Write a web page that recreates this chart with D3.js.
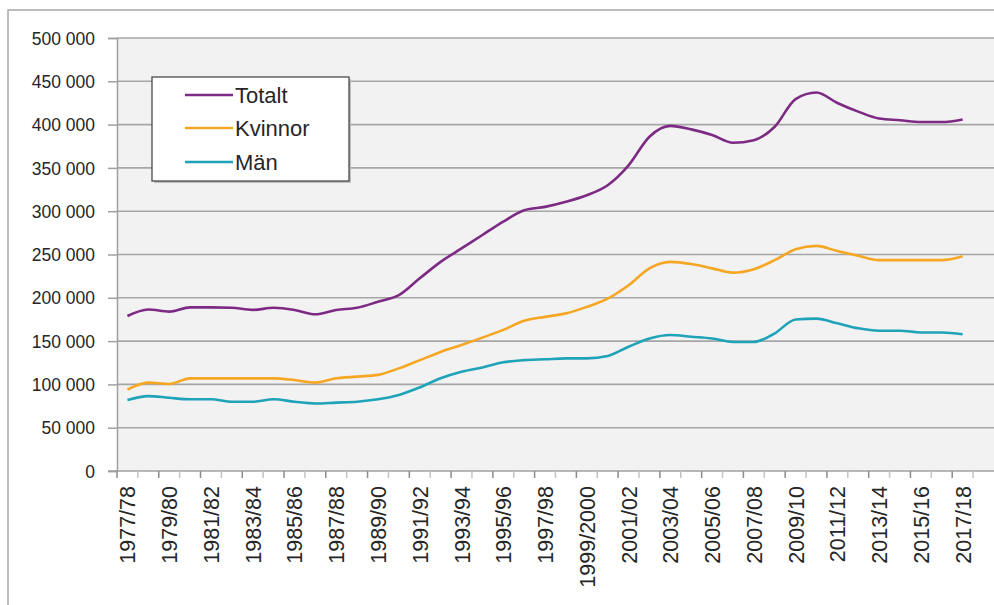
<!DOCTYPE html>
<html>
<head>
<meta charset="utf-8">
<script src="https://cdn.jsdelivr.net/npm/d3@7"></script>
<style>
  html, body { margin: 0; padding: 0; background: #ffffff; }
  svg { display: block; }
  text { font-family: "Liberation Sans", Arial, sans-serif; fill: #262626; }
</style>
</head>
<body>
<svg id="chart" width="994" height="605"></svg>
<script>
const categories = ["1977/78","1978/79","1979/80","1980/81","1981/82","1982/83","1983/84","1984/85","1985/86","1986/87","1987/88","1988/89","1989/90","1990/91","1991/92","1992/93","1993/94","1994/95","1995/96","1996/97","1997/98","1998/99","1999/2000","2000/01","2001/02","2002/03","2003/04","2004/05","2005/06","2006/07","2007/08","2008/09","2009/10","2010/11","2011/12","2012/13","2013/14","2014/15","2015/16","2016/17","2017/18"];

const totalt = [179000,186500,184000,189000,189000,188500,186000,188500,186000,181000,186000,188500,195500,203000,222500,241500,257000,272500,288000,301000,305000,311000,318500,330000,353000,386000,398500,394500,388000,379000,382000,397500,429500,437000,425000,415000,407000,405000,403000,403000,406000];
const kvinnor = [94000,102000,100500,107000,107000,107000,107000,107000,105000,102000,107000,109000,111000,118500,128000,137500,145500,154000,163000,173500,178000,182000,189500,199000,214500,234000,241500,239000,234000,229000,233000,243500,256000,260000,254000,248500,243500,243500,243500,243500,248000];
const man = [82000,86500,84500,82800,82800,80000,80000,82800,80000,78000,79000,80000,82800,87800,96500,107000,114500,119500,125500,128000,129000,130000,130000,132800,143500,153000,157000,155000,153000,149000,149000,159000,175000,176000,170500,164800,162000,162000,160000,160000,158000];

const yTicks = [0,50000,100000,150000,200000,250000,300000,350000,400000,450000,500000];
const seriesNames = ["Totalt","Kvinnor","Män"];
const seriesColors = ["#7d2a84","#f5a623","#1fa3b8"];

const svg = d3.select("#chart");
const W = 994, H = 605;
const plotL = 117, plotT = 38, plotB = 471;
const bandW = 20.88;
const plotAxisR = plotL + bandW * categories.length;

const x = d3.scaleBand().domain(categories).range([plotL, plotAxisR]).paddingInner(0).paddingOuter(0);
const y = d3.scaleLinear().domain([0, 500000]).range([plotB, plotT]);
const cx = c => x(c) + x.bandwidth() / 2;

// outer chart border
svg.append("rect").attr("x", 8).attr("y", 10).attr("width", W + 20).attr("height", H + 20)
  .attr("fill", "#ffffff").attr("stroke", "#a8a8a8").attr("stroke-width", 1.5);

// plot background
svg.append("rect").attr("x", plotL).attr("y", plotT).attr("width", W - plotL + 10).attr("height", plotB - plotT)
  .attr("fill", "#f2f2f2");

// gridlines
svg.append("g").selectAll("line").data(yTicks.filter(d => d > 0)).join("line")
  .attr("x1", plotL).attr("x2", W + 5)
  .attr("y1", d => y(d)).attr("y2", d => y(d))
  .attr("stroke", "#a6a6a6").attr("stroke-width", 1.6);

// y axis
const yAxis = d3.axisLeft(y).tickValues(yTicks).tickSize(9).tickPadding(13)
  .tickFormat(d => d === 0 ? "0" : d3.format(",")(d).replace(/,/g, " "));
const yG = svg.append("g").attr("transform", `translate(${plotL},0)`).call(yAxis);
yG.select(".domain").attr("stroke", "#a0a0a0").attr("stroke-width", 1.5);
yG.selectAll(".tick line").attr("stroke", "#a0a0a0").attr("stroke-width", 1.5);
yG.selectAll(".tick text").attr("font-size", 17.5).attr("fill", "#262626")
  .attr("font-family", "'Liberation Sans', Arial, sans-serif").attr("dy", "0.35em");

// x axis
svg.append("line").attr("x1", plotL - 9).attr("x2", W + 5).attr("y1", plotB).attr("y2", plotB)
  .attr("stroke", "#a0a0a0").attr("stroke-width", 1.5);
const boundaries = categories.map(c => x(c)).concat([plotAxisR]);
svg.append("g").selectAll("line").data(boundaries).join("line")
  .attr("x1", d => d).attr("x2", d => d)
  .attr("y1", plotB).attr("y2", plotB + 7)
  .attr("stroke", (d, i) => i % 2 === 0 ? "#8c8c8c" : "#c4c4c4").attr("stroke-width", 1.5);

svg.append("g").selectAll("text").data(categories.filter((c, i) => i % 2 === 0)).join("text")
  .attr("transform", c => `translate(${cx(c) + 8},${plotB + 15}) rotate(-90)`)
  .attr("text-anchor", "end")
  .attr("font-size", 21.5)
  .text(c => c);

// lines
const seriesData = [totalt, kvinnor, man];
const line = d3.line().x((d, i) => cx(categories[i])).y(d => y(d)).curve(d3.curveMonotoneX);
svg.append("g").selectAll("path").data(seriesData).join("path")
  .attr("d", d => line(d))
  .attr("fill", "none")
  .attr("stroke", (d, i) => seriesColors[i])
  .attr("stroke-width", 2.6)
  .attr("stroke-linejoin", "round");

// legend
const lg = svg.append("g");
lg.append("rect").attr("x", 154).attr("y", 79).attr("width", 197).attr("height", 104).attr("fill", "#bdbdbd");
lg.append("rect").attr("x", 152).attr("y", 77).attr("width", 197).attr("height", 104)
  .attr("fill", "#ffffff").attr("stroke", "#4a4a4a").attr("stroke-width", 1.3);
const rowsY = [95, 128, 162];
seriesNames.forEach((n, i) => {
  lg.append("line").attr("x1", 185).attr("x2", 233).attr("y1", rowsY[i]).attr("y2", rowsY[i])
    .attr("stroke", seriesColors[i]).attr("stroke-width", 2.6);
  lg.append("text").attr("x", 235).attr("y", rowsY[i]).attr("dy", "0.36em")
    .attr("font-size", 22).text(n);
});
</script>
</body>
</html>
